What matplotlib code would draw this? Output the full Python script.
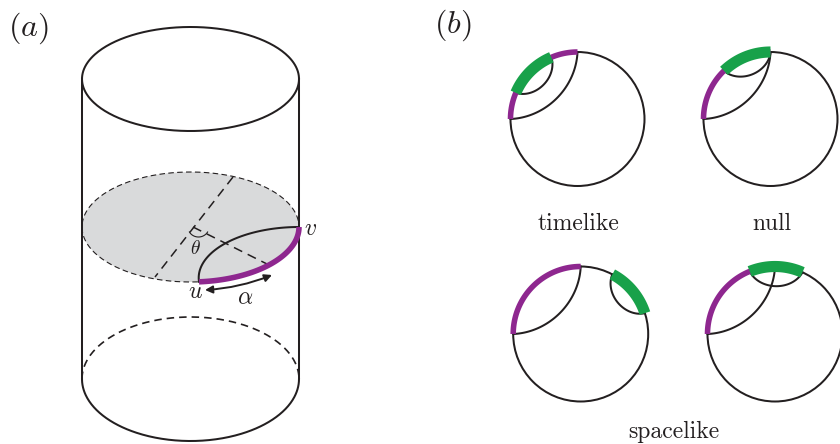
import matplotlib
matplotlib.use("Agg")
import matplotlib.pyplot as plt
import numpy as np
from matplotlib.patches import Circle, FancyArrowPatch

plt.rcParams["mathtext.fontset"] = "cm"
plt.rcParams["axes.unicode_minus"] = False

BLACK = "#231f20"
PURPLE = "#8e278f"
GREEN = "#18a14a"
GREY = "#d9dadb"

# panel (b): circle centres + radius, arc end points in degrees
CENTERS_X = [577.5, 770.5, 580.7, 775.0]
CENTERS_Y = [119.0, 119.0, 334.0, 334.0]
RADII = [67.0, 67.0, 67.5, 67.5]
PURPLE_FROM = [90, 90, 90, 90]
PURPLE_TO = [180, 180, 180, 180]
GREEN_FROM = [113, 90, 18, 66]
GREEN_TO = [157, 134, 62, 112]

# panel (a): cylinder ellipses
CYL_X = 190.5
CYL_A = 108.5
TOP_Y, TOP_B = 79.0, 52.0
MID_Y, MID_B = 227.0, 55.0
BOT_Y, BOT_B = 379.0, 62.0
U_ANGLE, V_ANGLE = 85.5, 0.0

LABELS = ["timelike", "null", "spacelike"]

LW = 1.45


def geodesic(t1, t2, flat=1.0, n=80):
    """Arc orthogonal to the unit circle between two angles (degrees), flat < 1 pulls it to the chord."""
    a1, a2 = np.radians(t1), np.radians(t2)
    half = (a2 - a1) / 2
    mid = (a1 + a2) / 2
    dist = 1 / np.cos(half)
    rad = np.tan(half)
    cx, cy = dist * np.cos(mid), dist * np.sin(mid)
    start = np.arctan2(np.sin(a1) - cy, np.cos(a1) - cx)
    end = np.arctan2(np.sin(a2) - cy, np.cos(a2) - cx)
    if end - start > np.pi:
        end -= 2 * np.pi
    if start - end > np.pi:
        end += 2 * np.pi
    s = np.linspace(start, end, n)
    px, py = cx + rad * np.cos(s), cy + rad * np.sin(s)
    # distance from the chord, measured along the mid angle
    off = px * np.cos(mid) + py * np.sin(mid) - np.cos(half)
    return px - (1 - flat) * off * np.cos(mid), py - (1 - flat) * off * np.sin(mid)


def ellipse(x0, y0, a, b, t1=0, t2=360, n=300):
    """Point on screen, y grows downward so positive t goes below centre."""
    t = np.radians(np.linspace(t1, t2, n))
    return x0 + a * np.cos(t), y0 + b * np.sin(t)


fig = plt.figure(figsize=(8.4, 4.44), dpi=100)
ax = fig.add_axes([0, 0, 1, 1])
ax.set_xlim(0, 840)
ax.set_ylim(444, 0)
ax.axis("off")

# =============================================================================
# Panel (a): cylinder
# =============================================================================
x, y = ellipse(CYL_X, MID_Y, CYL_A, MID_B)
ax.fill(x, y, color=GREY, lw=0, zorder=1)
ax.plot(x, y, color=BLACK, lw=0.8, dashes=(5, 3), zorder=2)

x, y = ellipse(CYL_X, TOP_Y, CYL_A, TOP_B)
ax.plot(x, y, color=BLACK, lw=LW, zorder=3)
for side in [CYL_X - CYL_A, CYL_X + CYL_A]:
    ax.plot([side, side], [TOP_Y, BOT_Y], color=BLACK, lw=LW, zorder=3)
x, y = ellipse(CYL_X, BOT_Y, CYL_A, BOT_B, 0, 180)
ax.plot(x, y, color=BLACK, lw=LW, zorder=3)
x, y = ellipse(CYL_X, BOT_Y, CYL_A, BOT_B, 180, 360)
ax.plot(x, y, color=BLACK, lw=1.2, dashes=(4.5, 3), zorder=3)

# dashed diameters and the theta mark
ax.plot([233, 155], [177, 277], color=BLACK, lw=1.1, dashes=(6, 4), zorder=3)
ax.plot([193, 267], [227, 264], color=BLACK, lw=1.1, dashes=(6, 4), zorder=3)
x, y = ellipse(198.5, 227, 10.5, 10, 30, 150, 40)
ax.plot(x, y, color=BLACK, lw=0.8, zorder=3)

# boundary interval and its geodesic
gx, gy = geodesic(V_ANGLE, U_ANGLE)
ax.plot(CYL_X + CYL_A * gx, MID_Y + MID_B * gy, color=BLACK, lw=LW, zorder=4)
x, y = ellipse(CYL_X, MID_Y, CYL_A, MID_B, V_ANGLE, U_ANGLE, 80)
ax.plot(x, y, color=PURPLE, lw=4.0, solid_capstyle="butt", zorder=5)

ax.add_patch(FancyArrowPatch((205, 290), (272, 275), arrowstyle="<|-|>",
                             mutation_scale=11, color=BLACK, lw=1.4,
                             connectionstyle="arc3,rad=0.08", shrinkA=0, shrinkB=0,
                             zorder=5))

ax.text(8, 28, r"$(a)$", fontsize=23, va="center", ha="left", color=BLACK)
ax.text(434, 25, r"$(b)$", fontsize=23, va="center", ha="left", color=BLACK)
ax.text(195, 291, r"$u$", fontsize=17, va="center", ha="center", color=BLACK)
ax.text(311, 228, r"$v$", fontsize=17, va="center", ha="center", color=BLACK)
ax.text(195, 248, r"$\theta$", fontsize=14, va="center", ha="center", color=BLACK)
ax.text(245, 297, r"$\alpha$", fontsize=17, va="center", ha="center", color=BLACK)

# =============================================================================
# Panel (b): four circles
# =============================================================================
for i in range(4):
    cx, cy, r = CENTERS_X[i], CENTERS_Y[i], RADII[i]
    ax.add_patch(Circle((cx, cy), r, fill=False, ec=BLACK, lw=LW, zorder=2))

    gx, gy = geodesic(PURPLE_FROM[i], PURPLE_TO[i], 0.92)
    ax.plot(cx + r * gx, cy - r * gy, color=BLACK, lw=LW, zorder=3)
    gx, gy = geodesic(GREEN_FROM[i], GREEN_TO[i], 0.82)
    ax.plot(cx + r * gx, cy - r * gy, color=BLACK, lw=LW, zorder=3)

    # minus signs: screen y is flipped, angles here count counter-clockwise
    x, y = ellipse(cx, cy, r, r, -PURPLE_FROM[i], -PURPLE_TO[i], 80)
    ax.plot(x, y, color=PURPLE, lw=4.0, solid_capstyle="butt", zorder=4)
    x, y = ellipse(cx, cy, r, r, -GREEN_FROM[i], -GREEN_TO[i], 80)
    ax.plot(x, y, color=GREEN, lw=8.0, solid_capstyle="butt", zorder=5)

ax.text(578, 224, LABELS[0], family="cmr10", fontsize=17, va="center", ha="center", color=BLACK)
ax.text(772, 224, LABELS[1], family="cmr10", fontsize=17, va="center", ha="center", color=BLACK)
ax.text(674, 438, LABELS[2], family="cmr10", fontsize=17, va="baseline", ha="center", color=BLACK)

fig.savefig("out.png", dpi=100)
plt.close(fig)
